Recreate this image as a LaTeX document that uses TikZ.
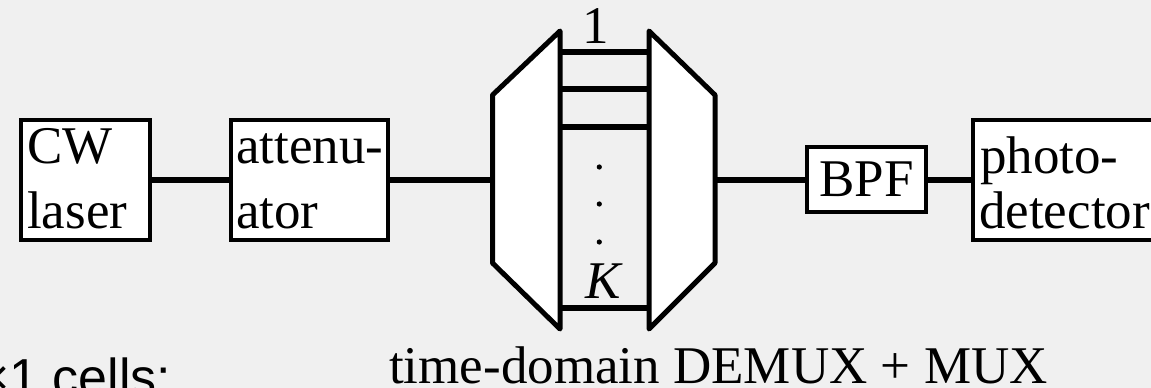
\documentclass[tikz,border=0pt]{standalone}
\usepackage{fontspec}
\setmainfont{Liberation Serif}
\newfontfamily\arialfont{Liberation Sans}
\definecolor{bg}{RGB}{240,240,240}
\begin{document}
\begin{tikzpicture}[x=1pt,y=-1pt,
  blk/.style={draw, line width=4pt, fill=white, inner sep=0pt},
  txt/.style={inner sep=0pt, anchor=base west, font=\fontsize{53}{65}\selectfont},
  conn/.style={line width=6pt},
  trap/.style={draw, fill=white, line width=5pt, line join=round},
  chan/.style={line width=6pt},
  dotmark/.style={fill=black}]
\fill[bg] (0,0) rectangle (1151,388);
\useasboundingbox (0,0) rectangle (1151,388);

% blocks
\node[blk, minimum width=129pt, minimum height=120pt] (cw) at (85.5,180) {};
\node[blk, minimum width=157pt, minimum height=120pt] (att) at (309.5,180) {};
\node[blk, minimum width=119pt, minimum height=65pt, font=\fontsize{53}{65}\selectfont] (bpf) at (866.5,179.5) {BPF};
\node[blk, minimum width=202pt, minimum height=120pt] (pd) at (1074,180) {};

% demux / mux coordinates
\coordinate (dmin) at (492.5,180);
\coordinate (dmout) at (715,180);

% connectors
\draw[conn] (cw.east) -- (att.west);
\draw[conn] (att.east) -- (dmin);
\draw[conn] (dmout) -- (bpf.west |- dmout);
\draw[conn] (bpf.east |- dmout) -- (pd.west);

% channel lines
\coordinate (c1a) at (560,51.5);  \coordinate (c1b) at (649,51.5);
\coordinate (c2a) at (560,89);    \coordinate (c2b) at (649,89);
\coordinate (c3a) at (560,127);   \coordinate (c3b) at (649,127);
\coordinate (cKa) at (560,308);   \coordinate (cKb) at (649,308);
\draw[chan] (c1a) -- (c1b);
\draw[chan] (c2a) -- (c2b);
\draw[chan] (c3a) -- (c3b);
\draw[chan] (cKa) -- (cKb);

% trapezoids
\draw[trap] (492.5,95) -- (560,31) -- (560,329) -- (492.5,263) -- cycle;
\draw[trap] (649,31) -- (715,95) -- (715,263) -- (649,329) -- cycle;

% dots
\fill[dotmark] (599.3,167) circle (2.6pt);
\fill[dotmark] (599.3,204) circle (2.6pt);
\fill[dotmark] (599.3,242) circle (2.6pt);

% labels
\node[txt, anchor=base] (n1) at (596,43) {1};
\node[txt, anchor=base] (nK) at (603,298) {\itshape K};

\node[txt] (cw1) at (27,163) {CW};
\node[txt] (cw2) at (27,228) {laser};
\node[txt] (at1) at (236,163) {attenu-};
\node[txt] (at2) at (236,228) {ator};
\node[txt] (pd1) at (980,173) {photo-};
\node[txt] (pd2) at (979,228) {detector};

\node[txt] (cap) at (389,383) {time-domain DEMUX + MUX};
\node[txt, font=\arialfont\fontsize{52}{60}\selectfont] (cells) at (-21,395.5) {×1 cells:};
\end{tikzpicture}
\end{document}
